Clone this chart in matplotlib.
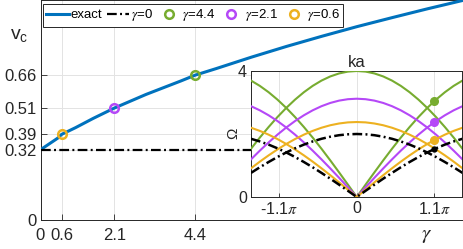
import numpy as np
import matplotlib
matplotlib.use("Agg")
import matplotlib.pyplot as plt

plt.rcParams['font.family'] = ['Liberation Sans', 'DejaVu Sans']
plt.rcParams['mathtext.fontset'] = 'stix'
plt.rcParams['lines.scale_dashes'] = False

# ---------------- data ----------------
gamma_exact = [0, 0.5, 0.6, 1, 1.5, 2.1, 3, 4, 4.4, 5, 6, 7, 8, 9, 10, 11, 12]
vc_exact = [0.32, 0.374, 0.39, 0.421, 0.463, 0.51, 0.572, 0.634, 0.66, 0.690,
            0.742, 0.791, 0.837, 0.881, 0.922, 0.962, 1.0]
vc_gamma0 = 0.32
marker_gammas = [4.4, 2.1, 0.6]
marker_vc = [0.66, 0.51, 0.39]
marker_labels = [r'$\gamma$=4.4', r'$\gamma$=2.1', r'$\gamma$=0.6']

x_ticks = [0, 0.6, 2.1, 4.4]
x_ticklabels = ['0', '0.6', '2.1', '4.4']
y_ticks = [0, 0.32, 0.39, 0.51, 0.66]
y_ticklabels = ['0', '0.32', '0.39', '0.51', '0.66']

# inset: |ka| samples in units of pi/8 (0 .. 12), mirrored for negative ka
ka_steps = list(range(0, 13))
# acoustic (V-shaped) branches
om_v_g0 = [0, 0.196, 0.390, 0.581, 0.765, 0.943, 1.111, 1.269, 1.414, 1.546, 1.663, 1.764, 1.848]
om_v_g06 = [0, 0.233, 0.464, 0.691, 0.911, 1.122, 1.322, 1.510, 1.683, 1.840, 1.979, 2.099, 2.199]
om_v_g21 = [0, 0.306, 0.609, 0.906, 1.194, 1.471, 1.733, 1.979, 2.206, 2.412, 2.594, 2.752, 2.883]
om_v_g44 = [0, 0.392, 0.780, 1.161, 1.531, 1.886, 2.222, 2.538, 2.828, 3.092, 3.326, 3.528, 3.696]
# dome branches
om_d_g0 = [2.0, 1.990, 1.962, 1.914, 1.848, 1.764, 1.663, 1.546, 1.414, 1.269, 1.111, 0.943, 0.765]
om_d_g06 = [2.38, 2.369, 2.334, 2.278, 2.199, 2.099, 1.979, 1.840, 1.683, 1.510, 1.322, 1.122, 0.911]
om_d_g21 = [3.12, 3.105, 3.060, 2.986, 2.883, 2.752, 2.594, 2.412, 2.206, 1.979, 1.733, 1.471, 1.194]
om_d_g44 = [4.0, 3.981, 3.923, 3.828, 3.696, 3.528, 3.326, 3.092, 2.828, 2.538, 2.222, 1.886, 1.531]
dot_ka_over_pi = 1.1
dot_omega = [3.04, 2.37, 1.81, 1.52]   # green, purple, orange, black

inset_xticks_over_pi = [-1.1, 0, 1.1]
inset_xticklabels = [r'-1.1$\pi$', '0', r'1.1$\pi$']
inset_yticks = [0, 4]

# ---------------- style ----------------
c_blue = '#0072BD'
c_green = '#77AC30'
c_purple = '#B548F7'
c_orange = '#EDB120'
ax_col = '#262626'
grid_col = '#E3E3E3'
dashdot = (0, (7.0, 2.4, 1.4, 2.4))

W, H = 463, 249
fig = plt.figure(figsize=(W / 100, H / 100), dpi=100)

L, R, T, B = 40.5, 462.5, 0.5, 220
ax = fig.add_axes([L / W, 1 - B / H, (R - L) / W, (B - T) / H])
ax.set_xlim(0, 12)
ax.set_ylim(0, 1.0)

ax.grid(True, color=grid_col, lw=0.7)
ax.set_axisbelow(True)

ln_exact, = ax.plot(gamma_exact, vc_exact, color=c_blue, lw=2.2, label='exact', zorder=3)
ln_g0 = ax.axhline(vc_gamma0, color='black', lw=1.6, linestyle=dashdot,
                   label=r'$\gamma$=0', zorder=3)
mk_handles = []
for g, v, c, lab in zip(marker_gammas, marker_vc, [c_green, c_purple, c_orange], marker_labels):
    h, = ax.plot([g], [v], 'o', ms=6.2, mfc='none', mec=c, mew=1.8, label=lab, zorder=4)
    mk_handles.append(h)

ax.set_xticks(x_ticks)
ax.set_xticklabels(x_ticklabels)
ax.set_yticks(y_ticks)
ax.set_yticklabels(y_ticklabels)
ax.tick_params(direction='in', length=4, width=0.6, colors=ax_col, labelsize=12, pad=3)
ax.tick_params(axis='x', pad=6)
for s in ax.spines.values():
    s.set_color(ax_col)
    s.set_linewidth(0.7)

ax.set_ylabel(r'$\mathregular{v_c}$', rotation=0, fontsize=14, color=ax_col, ha='center', va='center')
ax.yaxis.set_label_coords((19 - L) / (R - L), (B - 36) / (B - T))
ax.set_xlabel(r'$\gamma$', fontsize=15, color=ax_col, ha='center', va='center')
ax.xaxis.set_label_coords((427 - L) / (R - L), (B - 235) / (B - T))

leg = ax.legend(handles=[ln_exact, ln_g0] + mk_handles, loc='upper left',
                bbox_to_anchor=((43 - L) / (R - L), (B - 4) / (B - T)),
                ncol=5, fontsize=9.5, frameon=True, fancybox=False,
                edgecolor=ax_col, framealpha=1,
                handlelength=1.7, handletextpad=0.15, columnspacing=0.35,
                borderpad=0.25, borderaxespad=0)
leg.get_frame().set_linewidth(0.7)

# ---------------- inset ----------------
iL, iR, iT, iB = 251, 462.5, 71, 197
ax_in = fig.add_axes([iL / W, 1 - iB / H, (iR - iL) / W, (iB - iT) / H])
ax_in.set_xlim(-1.5 * np.pi, 1.5 * np.pi)
ax_in.set_ylim(0, 4)
ax_in.grid(True, color=grid_col, lw=0.7)
ax_in.set_axisbelow(True)

steps = np.array(ka_steps)
ka = np.concatenate([-steps[::-1][:-1], steps]) * np.pi / 8

def mirror(vals):
    v = np.array(vals)
    return np.concatenate([v[::-1][:-1], v])

for vv, dd, c in [(om_v_g44, om_d_g44, c_green), (om_v_g21, om_d_g21, c_purple),
                  (om_v_g06, om_d_g06, c_orange)]:
    ax_in.plot(ka, mirror(vv), color=c, lw=1.5, zorder=3)
    ax_in.plot(ka, mirror(dd), color=c, lw=1.5, zorder=3)
ax_in.plot(ka, mirror(om_v_g0), color='black', lw=1.8, linestyle=dashdot, zorder=4)
ax_in.plot(ka, mirror(om_d_g0), color='black', lw=1.8, linestyle=dashdot, zorder=4)

for om, c, ms in zip(dot_omega, [c_green, c_purple, c_orange, 'black'], [5.5, 5.5, 5.5, 3.5]):
    ax_in.plot([dot_ka_over_pi * np.pi], [om], 'o', color=c, ms=ms, mec=c, zorder=5)

ax_in.set_xticks(np.array(inset_xticks_over_pi) * np.pi)
ax_in.set_xticklabels(inset_xticklabels)
ax_in.set_yticks(inset_yticks)
ax_in.tick_params(direction='in', length=3, width=0.6, colors=ax_col, labelsize=11.5, pad=3)
for s in ax_in.spines.values():
    s.set_color(ax_col)
    s.set_linewidth(0.7)
ax_in.set_title('ka', fontsize=12, color=ax_col, pad=3)
ax_in.set_ylabel('Ω', fontsize=11, color=ax_col, va='center', ha='center')
ax_in.yaxis.set_label_coords((233 - iL) / (iR - iL), (iB - 133) / (iB - iT))

fig.savefig('out.png', dpi=100)
